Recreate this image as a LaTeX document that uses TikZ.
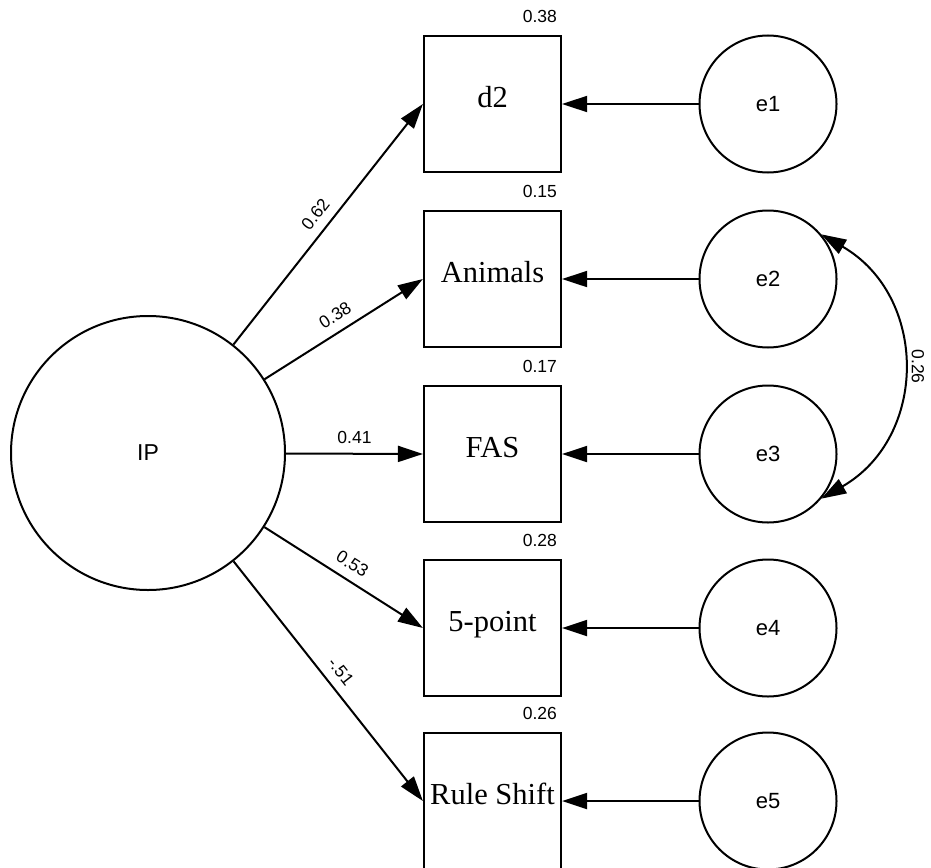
\documentclass[tikz,border=0pt]{standalone}
\usepackage{fontspec}
\setmainfont{Liberation Serif}
\newfontfamily\arial{Liberation Sans}
\usetikzlibrary{arrows.meta}

\begin{document}
\begin{tikzpicture}[x=1pt,y=1pt,
latent/.style={circle,draw,line width=2pt,inner sep=0pt,font=\arial\fontsize{22}{26}\selectfont},
manifest/.style={rectangle,draw,line width=2.2pt,minimum width=137pt,minimum height=136pt,inner sep=0pt,
  text height=20pt,text depth=13pt,font=\fontsize{30.5}{36}\selectfont},
coef/.style={inner sep=2pt,font=\arial\fontsize{17.5}{20}\selectfont},
rsq/.style={anchor=south east,inner sep=0pt,xshift=-5pt,yshift=12pt,font=\arial\fontsize{17.5}{20}\selectfont},
load/.style={line width=2pt,-{Triangle[length=25pt,width=16pt]}},
cov/.style={line width=2pt,{Triangle[length=25pt,width=16pt]}-{Triangle[length=25pt,width=16pt]}}]
\useasboundingbox (0,0) rectangle (931,-867);
\node[latent,minimum size=274pt,font=\arial\fontsize{23}{27}\selectfont] (IP) at (148,-453) {IP};
\node[manifest] (d2) at (492.5,-104) {d2};
\node[manifest] (anim) at (492.5,-279) {Animals};
\node[manifest] (fas) at (492.5,-454) {FAS};
\node[manifest] (five) at (492.5,-628) {5-point};
\node[manifest] (rule) at (492.5,-801) {Rule Shift};
\foreach \i/\y in {1/-104,2/-279,3/-454,4/-628,5/-801}
  \node[latent,minimum size=137pt] (e\i) at (768,\y) {e\i};
\foreach \v/\r in {d2/0.38,anim/0.15,fas/0.17,five/0.28,rule/0.26}
  \node[rsq] (r\v) at (\v.north east) {\r};
\path[load]
(IP) edge node[coef,midway,sloped,above=7pt] {0.62} (d2.west)
(IP) edge node[coef,midway,sloped,above=7pt] {0.38} (anim.west)
(IP) edge node[coef,midway,sloped,above=7pt] {0.41} (fas.west)
(IP) edge node[coef,midway,sloped,above=7pt] {0.53} (five.west)
(IP) edge node[coef,midway,sloped,above=7pt] {-.51} (rule.west);
\foreach \i/\v in {1/d2,2/anim,3/fas,4/five,5/rule}
  \draw[load] (e\i) -- (\v.east);
\path[cov] (e2.40) edge[out=-30,in=30,looseness=1.2]
  node[coef,midway,sloped,allow upside down,above=7pt] {0.26} (e3.-40);
\end{tikzpicture}
\end{document}
